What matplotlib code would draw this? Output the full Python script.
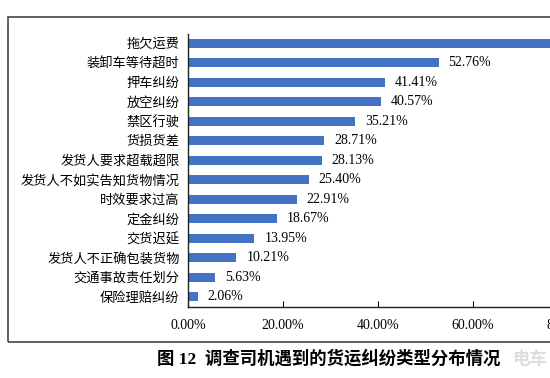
import matplotlib
matplotlib.use('Agg')
import matplotlib.pyplot as plt
from matplotlib.patches import Rectangle
from matplotlib.ticker import FuncFormatter

plt.rcParams['font.family'] = ['Liberation Serif', 'Noto Sans CJK SC']

# 数据（第一项的数值在原图中被裁掉，估计值）
categories = ['拖欠运费', '装卸车等待超时', '押车纠纷', '放空纠纷', '禁区行驶', '货损货差',
              '发货人要求超载超限', '发货人不如实告知货物情况', '时效要求过高', '定金纠纷',
              '交货迟延', '发货人不正确包装货物', '交通事故责任划分', '保险理赔纠纷']
values = [78.9, 52.76, 41.41, 40.57, 35.21, 28.71, 28.13, 25.40, 22.91, 18.67,
          13.95, 10.21, 5.63, 2.06]
xticks = [0, 20, 40, 60, 80, 100]

fig = plt.figure(figsize=(5.5, 3.78), dpi=100)

# 外框
fig.patches.append(Rectangle((8 / 550, 36 / 378), 1.2, 325 / 378, transform=fig.transFigure,
                             fill=False, edgecolor='#444444', linewidth=1.2))

ax = fig.add_axes([188 / 550, 71.5 / 378, 475 / 550, 273 / 378])
pos = list(range(len(categories)))
ax.barh(pos, values, height=0.45, color='#4472C4')
ax.set_ylim(len(categories) - 0.5, -0.5)
ax.set_xlim(0, 100)
ax.set_yticks(pos)
ax.set_yticklabels(categories, fontsize=9.5)
ax.tick_params(axis='y', length=0, pad=6)
ax.set_xticks(xticks)
ax.xaxis.set_major_formatter(FuncFormatter(lambda v, p: f'{v:.2f}%'))
ax.tick_params(axis='x', direction='in', length=4, labelsize=10, pad=9)

for s in ['top', 'right']:
    ax.spines[s].set_visible(False)
for s in ['left', 'bottom']:
    ax.spines[s].set_color('#222222')
    ax.spines[s].set_linewidth(1.0)

for p, v in zip(pos, values):
    ax.text(v + 2.1, p, f'{v:.2f}%', va='center', ha='left', fontsize=10)

fig.text(157 / 550, 1 - 359 / 378, '图 12  调查司机遇到的货运纠纷类型分布情况', ha='left', va='center',
         fontsize=12.5, fontweight='bold')
fig.text(512 / 550, 1 - 359 / 378, '电车', ha='left', va='center', fontsize=12.5, color='#dddddd',
         fontweight='bold')

fig.savefig('out.png', dpi=100)
